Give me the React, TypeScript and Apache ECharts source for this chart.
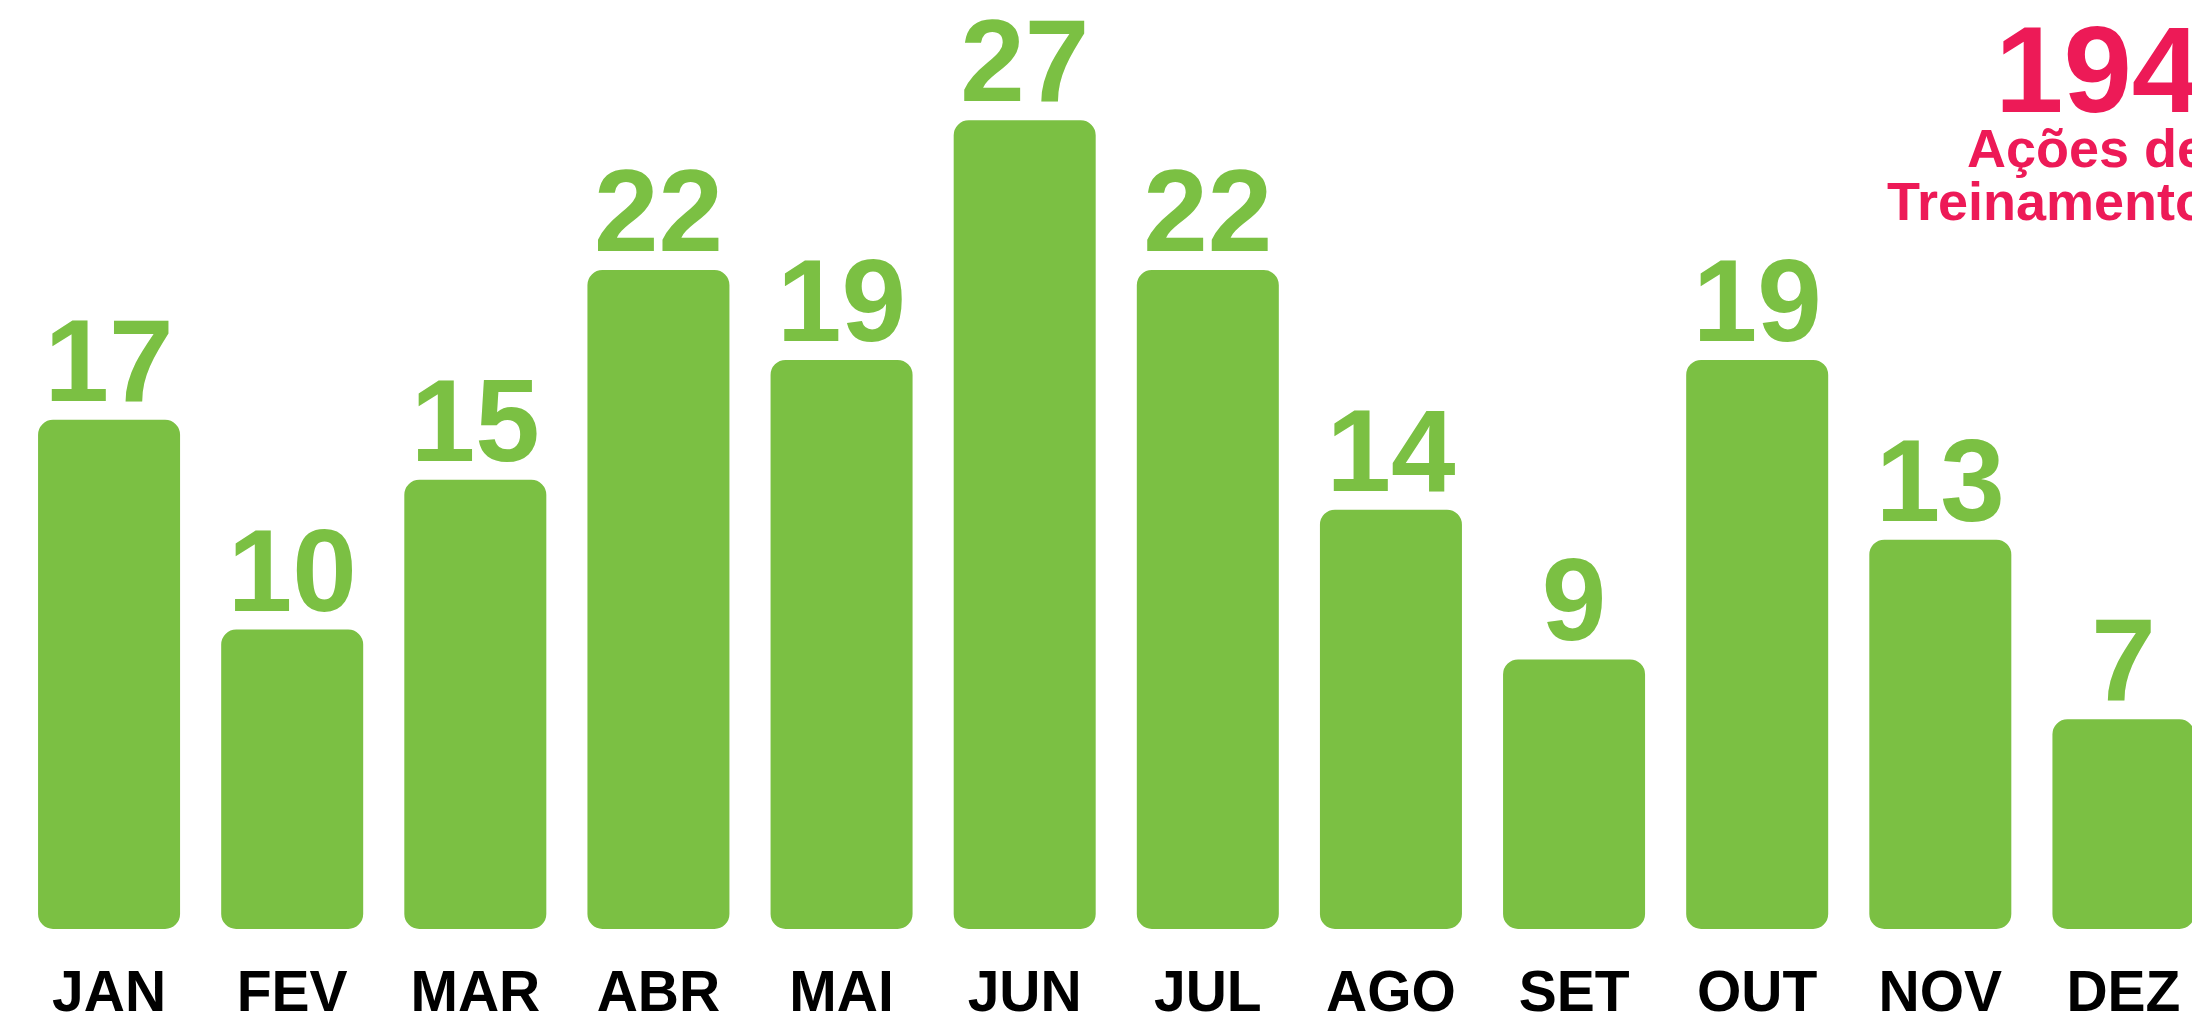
import React, { useEffect, useRef } from "react";
import * as echarts from "echarts";

const months = ["JAN", "FEV", "MAR", "ABR", "MAI", "JUN", "JUL", "AGO", "SET", "OUT", "NOV", "DEZ"];
const acoes = [17, 10, 15, 22, 19, 27, 22, 14, 9, 19, 13, 7];
const totalLabel = "194";
const subtitleLines = ["Ações de", "Treinamento"];

const GREEN = "#7BC043";
const PINK = "#ED1A57";
const FONT = "'Liberation Sans', Arial, Helvetica, sans-serif";

export default function App() {
  const ref = useRef<HTMLDivElement>(null);

  useEffect(() => {
    document.body.style.margin = "0";
    document.body.style.overflow = "hidden";
    const chart = echarts.init(ref.current!, null, { renderer: "svg" });
    chart.setOption({
      animation: false,
      backgroundColor: "#ffffff",
      grid: {
        left: 17.5,
        right: -23,
        top: 30.5,
        bottom: 86,
        containLabel: false,
        outerBoundsMode: "none",
      },
      xAxis: {
        type: "category",
        data: months,
        axisLine: { show: false },
        axisTick: { show: false },
        splitLine: { show: false },
        axisLabel: {
          color: "#000000",
          fontFamily: FONT,
          fontSize: 57,
          fontWeight: "bold",
          lineHeight: 44,
          margin: 40,
          interval: 0,
        },
      },
      yAxis: {
        type: "value",
        min: 0,
        max: 30,
        show: false,
        splitLine: { show: false },
      },
      series: [
        {
          type: "bar",
          data: acoes,
          barWidth: 142,
          itemStyle: { color: GREEN, borderRadius: 15 },
          label: {
            show: true,
            position: "top",
            distance: 14,
            color: GREEN,
            fontFamily: FONT,
            fontSize: 116,
            fontWeight: "bold",
            lineHeight: 90,
          },
        },
      ],
      graphic: [
        {
          type: "text",
          x: 1995,
          y: 69,
          silent: true,
          style: {
            text: totalLabel,
            fill: PINK,
            fontFamily: FONT,
            fontSize: 123,
            fontWeight: "bold",
            lineHeight: 90,
            textAlign: "left",
            verticalAlign: "middle",
          },
        },
        {
          type: "text",
          x: 1967,
          y: 147.5,
          silent: true,
          style: {
            text: subtitleLines[0],
            fill: PINK,
            fontFamily: FONT,
            fontSize: 54,
            fontWeight: "bold",
            lineHeight: 46,
            textAlign: "left",
            verticalAlign: "middle",
          },
        },
        {
          type: "text",
          x: 1887,
          y: 201,
          silent: true,
          style: {
            text: subtitleLines[1],
            fill: PINK,
            fontFamily: FONT,
            fontSize: 54,
            fontWeight: "bold",
            lineHeight: 46,
            textAlign: "left",
            verticalAlign: "middle",
          },
        },
      ],
    });
    return () => chart.dispose();
  }, []);

  return (
    <div
      ref={ref}
      style={{ position: "absolute", left: 0, top: 0, width: 2192, height: 1015 }}
    />
  );
}
